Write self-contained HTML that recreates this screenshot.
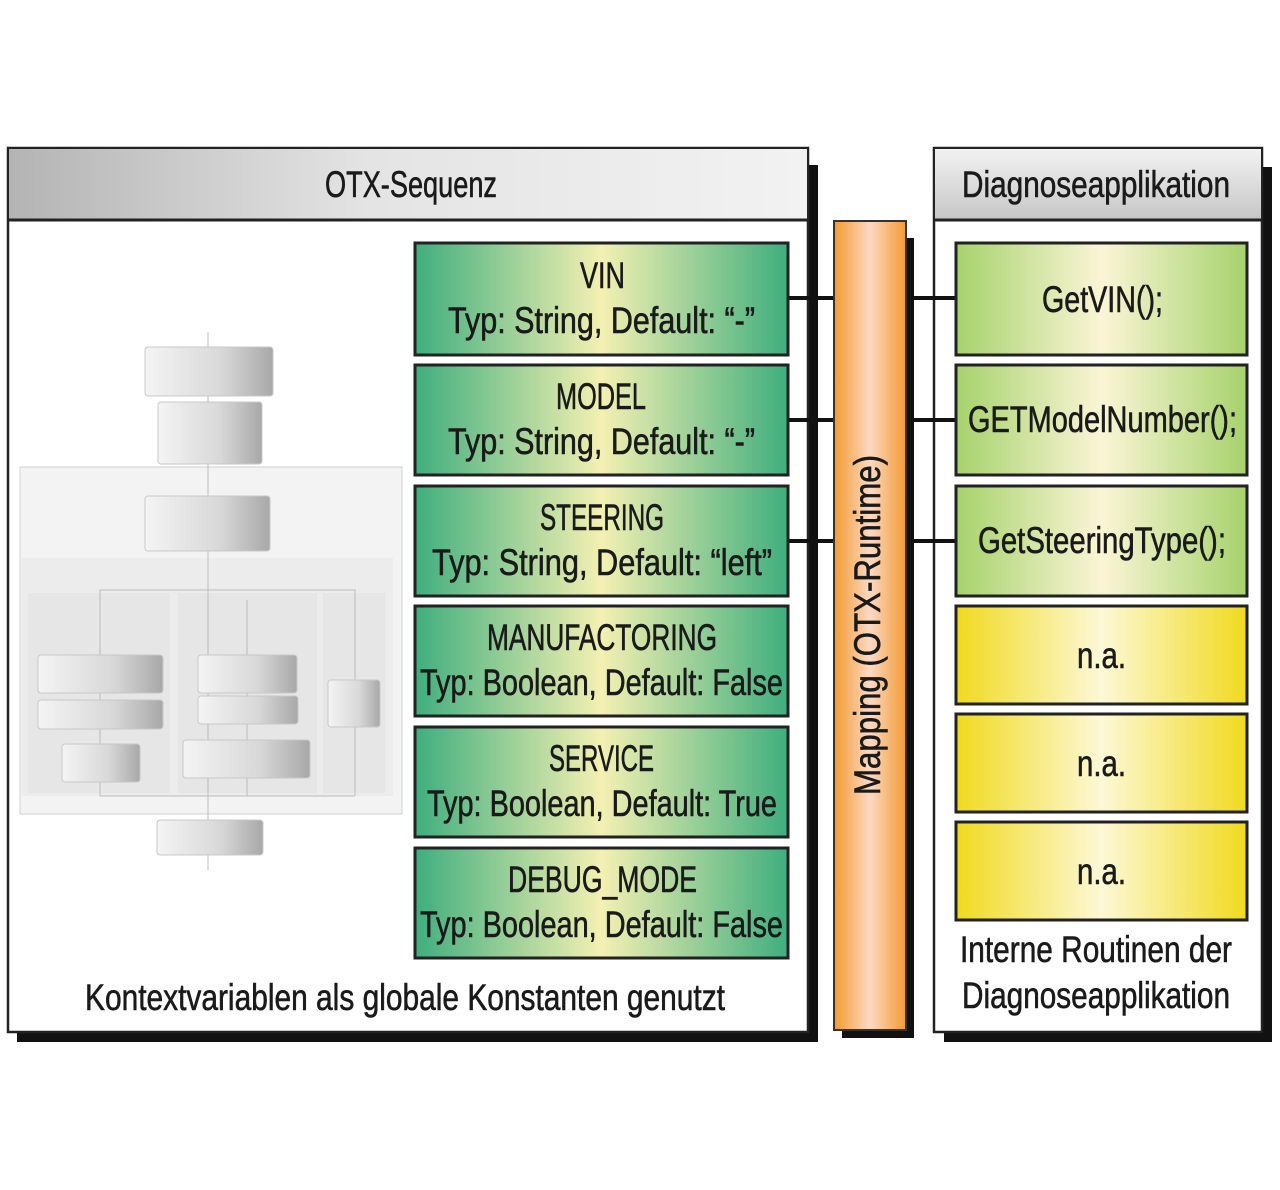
<!DOCTYPE html>
<html><head><meta charset="utf-8"><style>
html,body{margin:0;padding:0;background:#fff;width:1280px;height:1190px;overflow:hidden}
text{font-family:"Liberation Sans Narrow","Liberation Sans",sans-serif;fill:#1a1a1a;stroke:#1a1a1a;stroke-width:0.6}
</style></head><body>
<svg width="1280" height="1190" viewBox="0 0 1280 1190" xmlns="http://www.w3.org/2000/svg">
<defs>
<linearGradient id="gL" x1="0" x2="1"><stop offset="0" stop-color="#3fae7e"/><stop offset="0.5" stop-color="#f4f0b2"/><stop offset="1" stop-color="#3fae7e"/></linearGradient>
<linearGradient id="gR" x1="0" x2="1"><stop offset="0" stop-color="#a6d26c"/><stop offset="0.5" stop-color="#fbf5d6"/><stop offset="1" stop-color="#a6d26c"/></linearGradient>
<linearGradient id="gY" x1="0" x2="1"><stop offset="0" stop-color="#f0da1e"/><stop offset="0.5" stop-color="#fdf8d6"/><stop offset="1" stop-color="#f0da1e"/></linearGradient>
<linearGradient id="gO" x1="0" x2="1"><stop offset="0" stop-color="#f39a30"/><stop offset="0.5" stop-color="#fcd9c4"/><stop offset="1" stop-color="#f39a30"/></linearGradient>
<linearGradient id="gH" x1="0" x2="1"><stop offset="0" stop-color="#b4b4b4"/><stop offset="0.45" stop-color="#e4e4e4"/><stop offset="1" stop-color="#f2f2f2"/></linearGradient>
<linearGradient id="gH2" x1="0" y1="0" x2="0" y2="1"><stop offset="0" stop-color="#f2f2f2"/><stop offset="1" stop-color="#c6c6c6"/></linearGradient>
<linearGradient id="gB" x1="0" x2="1"><stop offset="0" stop-color="#f4f4f4"/><stop offset="0.6" stop-color="#d8d8d8"/><stop offset="1" stop-color="#a8a8a8"/></linearGradient>
</defs>

<rect x="17" y="165" width="801" height="877" fill="#111"/>
<rect x="842" y="238" width="72" height="800" fill="#111"/>
<rect x="944" y="167" width="328" height="875" fill="#111"/>

<rect x="8" y="148" width="800" height="884" fill="#fff" stroke="#222" stroke-width="2.5"/>
<rect x="9" y="149" width="798" height="71" fill="url(#gH)"/>
<line x1="8" y1="220" x2="808" y2="220" stroke="#222" stroke-width="3"/>
<text x="325" y="197" font-size="37" textLength="172" lengthAdjust="spacingAndGlyphs">OTX-Sequenz</text>

<rect x="934" y="148" width="328" height="884" fill="#fff" stroke="#222" stroke-width="2.5"/>
<rect x="935" y="149" width="326" height="71" fill="url(#gH2)"/>
<line x1="934" y1="220" x2="1262" y2="220" stroke="#222" stroke-width="3"/>
<text x="962" y="197" font-size="37" textLength="268" lengthAdjust="spacingAndGlyphs">Diagnoseapplikation</text>

<!-- thumbnail -->
<rect x="20" y="467" width="382" height="347" fill="#f3f3f3" stroke="#d0d0d0"/>
<rect x="22" y="558" width="371" height="238" fill="#ececec"/>
<rect x="28" y="593" width="142" height="200" fill="#e6e6e6"/>
<rect x="178" y="593" width="139" height="200" fill="#e6e6e6"/>
<rect x="323" y="593" width="62" height="200" fill="#e6e6e6"/>
<g stroke="#bbb" stroke-width="1" fill="none">
<line x1="208" y1="332" x2="208" y2="870"/>
<path d="M100 600 V590 H355 V600"/>
<line x1="100" y1="600" x2="100" y2="796"/><line x1="247" y1="600" x2="247" y2="796"/><line x1="355" y1="600" x2="355" y2="796"/>
<line x1="100" y1="796" x2="355" y2="796"/>
</g>
<g fill="url(#gB)" stroke="#c8c8c8" stroke-width="1">
<rect x="145" y="347" width="128" height="49" rx="3"/>
<rect x="158" y="402" width="104" height="62" rx="3"/>
<rect x="145" y="496" width="125" height="55" rx="3"/>
<rect x="38" y="655" width="125" height="38" rx="3"/>
<rect x="38" y="700" width="125" height="29" rx="3"/>
<rect x="62" y="744" width="78" height="38" rx="3"/>
<rect x="198" y="655" width="99" height="38" rx="3"/>
<rect x="198" y="696" width="100" height="28" rx="3"/>
<rect x="183" y="740" width="127" height="38" rx="3"/>
<rect x="328" y="680" width="52" height="47" rx="3"/>
<rect x="157" y="820" width="106" height="35" rx="3"/>
</g>

<g stroke="#111" stroke-width="4">
<line x1="788" y1="298" x2="956" y2="298"/>
<line x1="788" y1="420" x2="956" y2="420"/>
<line x1="788" y1="541" x2="956" y2="541"/>
</g>

<rect x="834" y="221" width="72" height="809" fill="url(#gO)" stroke="#333" stroke-width="2"/>
<text transform="translate(880,795) rotate(-90)" font-size="37" textLength="340" lengthAdjust="spacingAndGlyphs">Mapping (OTX-Runtime)</text>

<g stroke="#222" stroke-width="3" fill="url(#gL)">
<rect x="415" y="243" width="373" height="112"/>
<rect x="415" y="365" width="373" height="110"/>
<rect x="415" y="486" width="373" height="110"/>
<rect x="415" y="606" width="373" height="110"/>
<rect x="415" y="727" width="373" height="110"/>
<rect x="415" y="848" width="373" height="110"/>
</g>
<g font-size="37">
<text x="580" y="288" textLength="45" lengthAdjust="spacingAndGlyphs">VIN</text>
<text x="448" y="333" textLength="307" lengthAdjust="spacingAndGlyphs">Typ: String, Default: “-”</text>
<text x="556" y="409" textLength="90" lengthAdjust="spacingAndGlyphs">MODEL</text>
<text x="448" y="454" textLength="307" lengthAdjust="spacingAndGlyphs">Typ: String, Default: “-”</text>
<text x="540" y="530" textLength="124" lengthAdjust="spacingAndGlyphs">STEERING</text>
<text x="432" y="575" textLength="340" lengthAdjust="spacingAndGlyphs">Typ: String, Default: “left”</text>
<text x="487" y="650" textLength="230" lengthAdjust="spacingAndGlyphs">MANUFACTORING</text>
<text x="420" y="695" textLength="363" lengthAdjust="spacingAndGlyphs">Typ: Boolean, Default: False</text>
<text x="549" y="771" textLength="105" lengthAdjust="spacingAndGlyphs">SERVICE</text>
<text x="427" y="816" textLength="350" lengthAdjust="spacingAndGlyphs">Typ: Boolean, Default: True</text>
<text x="508" y="892" textLength="189" lengthAdjust="spacingAndGlyphs">DEBUG_MODE</text>
<text x="420" y="937" textLength="363" lengthAdjust="spacingAndGlyphs">Typ: Boolean, Default: False</text>
</g>
<text x="85" y="1010" font-size="37" textLength="640" lengthAdjust="spacingAndGlyphs">Kontextvariablen als globale Konstanten genutzt</text>

<g stroke="#222" stroke-width="3">
<rect x="956" y="243" width="291" height="112" fill="url(#gR)"/>
<rect x="956" y="365" width="291" height="110" fill="url(#gR)"/>
<rect x="956" y="486" width="291" height="110" fill="url(#gR)"/>
<rect x="956" y="606" width="291" height="98" fill="url(#gY)"/>
<rect x="956" y="714" width="291" height="98" fill="url(#gY)"/>
<rect x="956" y="822" width="291" height="98" fill="url(#gY)"/>
</g>
<g font-size="37">
<text x="1042" y="312" textLength="121" lengthAdjust="spacingAndGlyphs">GetVIN();</text>
<text x="968" y="432" textLength="269" lengthAdjust="spacingAndGlyphs">GETModelNumber();</text>
<text x="978" y="553" textLength="248" lengthAdjust="spacingAndGlyphs">GetSteeringType();</text>
<text x="1077" y="668" textLength="49" lengthAdjust="spacingAndGlyphs">n.a.</text>
<text x="1077" y="776" textLength="49" lengthAdjust="spacingAndGlyphs">n.a.</text>
<text x="1077" y="884" textLength="49" lengthAdjust="spacingAndGlyphs">n.a.</text>
<text x="960" y="962" textLength="272" lengthAdjust="spacingAndGlyphs">Interne Routinen der</text>
<text x="962" y="1008" textLength="268" lengthAdjust="spacingAndGlyphs">Diagnoseapplikation</text>
</g>
</svg>
</body></html>
